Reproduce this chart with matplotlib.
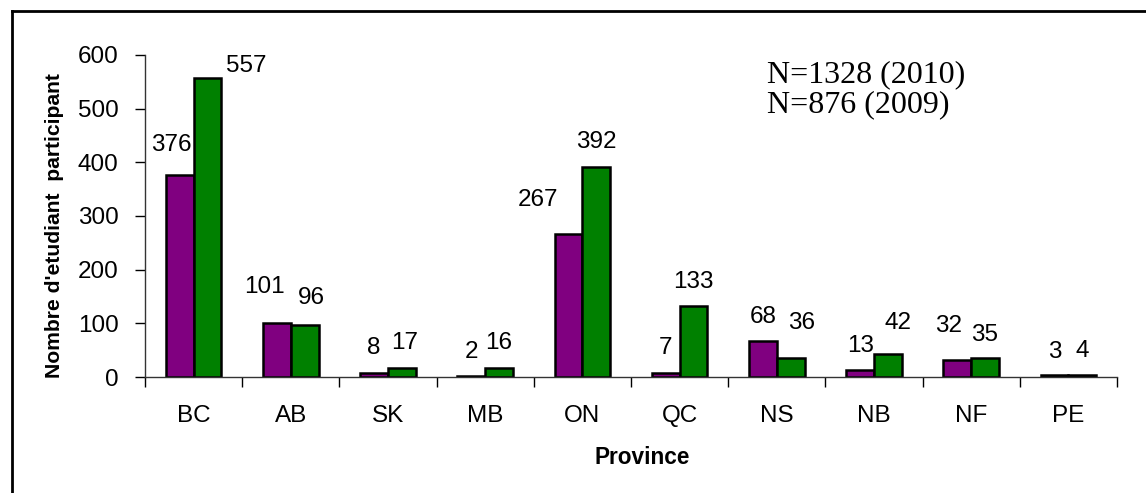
import matplotlib.pyplot as plt
import numpy as np
from matplotlib.lines import Line2D

plt.rcParams['font.family'] = ['Liberation Sans', 'DejaVu Sans']

# Data
provinces = ['BC', 'AB', 'SK', 'MB', 'ON', 'QC', 'NS', 'NB', 'NF', 'PE']
counts_2009 = [376, 101, 8, 2, 267, 7, 68, 13, 32, 3]
counts_2010 = [557, 96, 17, 16, 392, 133, 36, 42, 35, 4]
note_lines = ['N=1328 (2010)', 'N=876 (2009)']

# label nudges (x, y) in points, to dodge the neighbouring bars like the original
nudge_2009 = [(-6, 22), (-9, 26), (0, 18), (0, 17), (-22, 24), (0, 18), (0, 17), (0, 17), (-6, 24), (0, 17)]
nudge_2010 = [(28, 9), (5, 20), (2, 18), (0, 18), (0, 18), (0, 17), (8, 25), (7, 23), (0, 17), (0, 17)]

fs = 17.5

fig = plt.figure(figsize=(11.46, 4.93), dpi=100)
ax = fig.add_axes([145 / 1146, 116 / 493, 972 / 1146, 322 / 493])

x = np.arange(len(provinces))
w = 0.285
b1 = ax.bar(x - w / 2, counts_2009, w, color='#800080', edgecolor='black', linewidth=1.8)
b2 = ax.bar(x + w / 2, counts_2010, w, color='#008000', edgecolor='black', linewidth=1.8)

for bars, vals, nudges in [(b1, counts_2009, nudge_2009), (b2, counts_2010, nudge_2010)]:
    for bar, v, (dx, dy) in zip(bars, vals, nudges):
        ax.annotate(str(v), (bar.get_x() + bar.get_width() / 2, v),
                    xytext=(dx, dy), textcoords='offset points',
                    ha='center', va='center', fontsize=fs)

ax.set_xlim(-0.5, len(provinces) - 0.5)
ax.set_ylim(0, 600)
ax.set_yticks(range(0, 601, 100))
ax.tick_params(axis='y', labelsize=fs, length=7, width=1, pad=12)
ax.set_xticks(x)
ax.set_xticklabels(provinces, fontsize=fs)
ax.set_xticks(np.arange(-0.5, len(provinces)), minor=True)
ax.tick_params(axis='x', which='major', length=0, pad=20)
ax.tick_params(axis='x', which='minor', length=7, width=1)

for s in ['top', 'right']:
    ax.spines[s].set_visible(False)
for s in ['left', 'bottom']:
    ax.spines[s].set_linewidth(1)
    ax.spines[s].set_color('#333333')

fig.text(642 / 1146, 1 - 458 / 493, 'Province', ha='center', va='center',
         fontsize=16.3, fontweight='bold')
fig.text(55 / 1146, 1 - 226 / 493, "Nombre d'etudiant  participant", rotation=90,
         ha='center', va='center', fontsize=15.2, fontweight='bold')

fig.text(767 / 1146, 1 - 60 / 493, '\n'.join(note_lines), ha='left', va='top',
         fontsize=23, family='Liberation Serif', linespacing=1.05)

# frame around the chart (only left and top edges fall inside the picture)
fig.add_artist(Line2D([12 / 1146, 12 / 1146], [0, 1 - 11 / 493], transform=fig.transFigure,
                      color='black', linewidth=2))
fig.add_artist(Line2D([12 / 1146, 1], [1 - 11 / 493, 1 - 11 / 493], transform=fig.transFigure,
                      color='black', linewidth=2))

fig.savefig('out.png', dpi=100)
